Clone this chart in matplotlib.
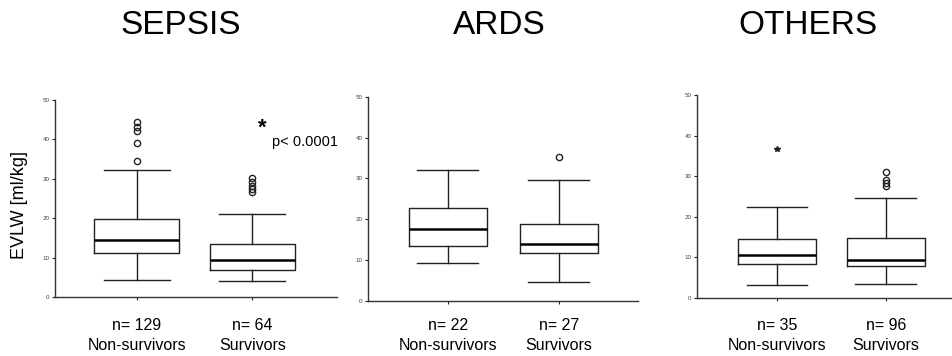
import matplotlib
matplotlib.use('Agg')
import matplotlib.pyplot as plt
from matplotlib.transforms import blended_transform_factory

plt.rcParams['font.family'] = ['Liberation Sans', 'DejaVu Sans']

panels = ['SEPSIS', 'ARDS', 'OTHERS']
groups = ['Non-survivors', 'Survivors']
counts = [[129, 64], [22, 27], [35, 96]]

# box stats per panel: [non-survivors, survivors]
medians = [[14.5, 9.3], [17.5, 14.0], [10.7, 9.4]]
q1s = [[11.1, 6.9], [13.5, 11.6], [8.4, 7.95]]
q3s = [[19.8, 13.4], [22.8, 18.9], [14.6, 14.75]]
whis_lo = [[4.4, 4.1], [9.3, 4.7], [3.1, 3.4]]
whis_hi = [[32.3, 21.1], [32.1, 29.7], [22.5, 24.6]]
outliers = [[[44.5, 43.2, 42.2, 39.0, 34.4], [30.2, 29.1, 28.2, 27.4, 26.7]],
            [[], [35.2]],
            [[], [31.1, 29.0, 28.3, 27.6]]]
extremes = [[[], []], [[], []], [[36.7], []]]

yticks = [0, 10, 20, 30, 40, 50]

W, H = 953, 356
fig = plt.figure(figsize=(W / 100, H / 100), dpi=100)

# axes rectangles in pixels: left, right, bottom (y=0), top (y=50)
rects = [(55, 337, 297, 100), (368, 638, 300.7, 97), (697, 953, 298, 95)]
centers = [[0.29, 0.70], [0.296, 0.707], [0.3125, 0.738]]
widths = [0.30, 0.29, 0.305]
title_x = [181, 499, 808]
col = '#222222'

for i, name in enumerate(panels):
    l, r, b, t = rects[i]
    ax = fig.add_axes([l / W, 1 - b / H, (r - l) / W, (b - t) / H])
    stats = []
    for j in range(2):
        stats.append(dict(med=medians[i][j], q1=q1s[i][j], q3=q3s[i][j],
                          whislo=whis_lo[i][j], whishi=whis_hi[i][j],
                          fliers=outliers[i][j]))
    ax.bxp(stats, positions=centers[i], widths=widths[i], showfliers=True,
           boxprops=dict(color=col, lw=1.0),
           whiskerprops=dict(color=col, lw=1.0),
           capprops=dict(color=col, lw=1.0),
           medianprops=dict(color='black', lw=1.8),
           flierprops=dict(marker='o', markerfacecolor='none',
                           markeredgecolor=col, markersize=4.5, mew=1.0),
           capwidths=[widths[i] * 0.78] * 2)
    for j in range(2):
        if extremes[i][j]:
            ax.plot([centers[i][j]] * len(extremes[i][j]), extremes[i][j],
                    linestyle='none', marker='*', color=col, markersize=4)
    ax.set_xlim(0, 1)
    ax.set_ylim(0, 50)
    ax.set_yticks(yticks)
    ax.set_yticklabels([str(v) for v in yticks], fontsize=4.5, color='#444444')
    ax.set_xticks(centers[i])
    ax.set_xticklabels([])
    ax.tick_params(axis='both', length=2, width=0.8, color=col, pad=2)
    for s in ['top', 'right']:
        ax.spines[s].set_visible(False)
    for s in ['left', 'bottom']:
        ax.spines[s].set_color('#333333')
        ax.spines[s].set_linewidth(1.0)
    ax.set_facecolor('none')

    tr = blended_transform_factory(ax.transData, fig.transFigure)
    for j in range(2):
        ax.text(centers[i][j], 1 - 325 / H, 'n= %d' % counts[i][j],
                transform=tr, ha='center', va='center', fontsize=11.5)
        ax.text(centers[i][j], 1 - 346 / H, groups[j],
                transform=tr, ha='center', va='center', fontsize=11.5)

    fig.text(title_x[i] / W, 1 - 25 / H, name, ha='center', va='center',
             fontsize=24)

    if i == 0:
        fig.text(20 / W, 1 - 205 / H, 'EVLW [ml/kg]', rotation=90,
                 ha='center', va='center', fontsize=13)
        fig.text(262 / W, 1 - 128 / H, '*', ha='center', va='center',
                 fontsize=16, fontweight='bold')
        fig.text(272 / W, 1 - 142 / H, 'p< 0.0001', ha='left', va='center',
                 fontsize=10.5)

fig.savefig('out.png', dpi=100)
